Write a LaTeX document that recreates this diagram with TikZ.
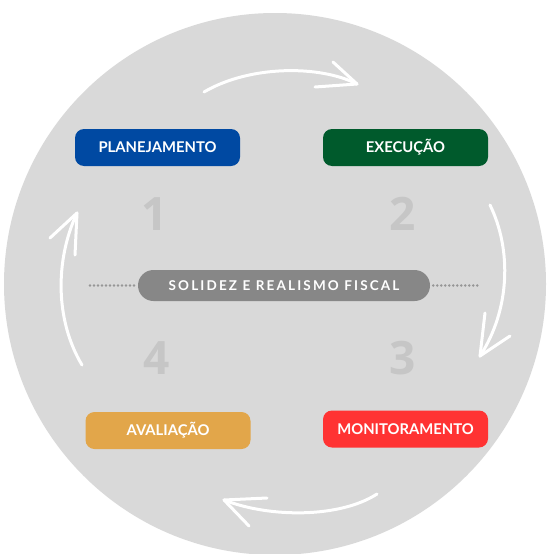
\documentclass[tikz,border=0pt]{standalone}
\usepackage{fontspec}
\setmainfont{Lato}
\newfontfamily\numfont{Open Sans}
\begin{document}
\begin{tikzpicture}[x=1pt,y=-1pt,
  stagebox/.style={rounded corners=9pt, minimum width=165pt, minimum height=37pt, inner sep=0pt,
    text=white, font=\fontsize{14.8}{16}\selectfont\bfseries},
  numlabel/.style={text=numgray, font=\numfont\fontsize{46}{50}\selectfont\bfseries},
  cyclearrow/.style={draw=white, line width=3pt, line cap=round, line join=round},
  dotline/.style={draw=dotgray, line width=2.6pt, line cap=round, dash pattern=on 0pt off 4pt}]
\definecolor{bggray}{HTML}{D9D9D9}
\definecolor{numgray}{HTML}{C6C6C6}
\definecolor{dotgray}{HTML}{969696}
\definecolor{pillgray}{HTML}{878787}
\definecolor{planblue}{HTML}{0049A2}
\definecolor{execgreen}{HTML}{005A2C}
\definecolor{monred}{HTML}{FF3333}
\definecolor{avalorange}{HTML}{E2A64A}
\useasboundingbox (0,0) rectangle (547,554);
\fill[white] (0,0) rectangle (547,554);
\fill[bggray] (275,284) circle (271);

% numbers
\node[numlabel] (n1) at (155,214) {1};
\node[numlabel] (n2) at (403,214) {2};
\node[numlabel] (n3) at (403,358) {3};
\node[numlabel] (n4) at (157,358) {4};

% stage boxes
\node[stagebox, fill=planblue] (plan) at (157.5,147.5) {PLANEJAMENTO};
\node[stagebox, fill=execgreen] (exec) at (405.5,147.5) {EXECUÇÃO};
\node[stagebox, fill=monred] (mon) at (405.5,429) {MONITORAMENTO};
\node[stagebox, fill=avalorange] (aval) at (168,430.5) {AVALIAÇÃO};

% central pill
\node[rounded corners=15.5pt, fill=pillgray, minimum width=292pt, minimum height=31pt, inner sep=0pt,
  text=white, font=\fontsize{13.5}{14}\selectfont\bfseries] (pill) at (284,285.5)
  {\addfontfeatures{LetterSpace=16}SOLIDEZ E REALISMO FISCAL};
\coordinate (dl) at (90,285.5);
\coordinate (dr) at (478,285.5);
\draw[dotline] (dl) -- ([xshift=-3pt]pill.west);
\draw[dotline] ([xshift=3pt]pill.east) -- (dr);

% arrows
\coordinate (ta) at (204,92);
\coordinate (tt) at (357,84);
\coordinate (tb1) at (333,62);
\coordinate (tb2) at (315,87);
\draw[cyclearrow] (ta) .. controls (250,65) and (320,65) .. (tt);
\draw[cyclearrow] (tb1) -- (tt) -- (tb2);

\coordinate (ra) at (490,205);
\coordinate (rt) at (480,356);
\coordinate (rb1) at (485,313);
\coordinate (rb2) at (510,336);
\draw[cyclearrow] (ra) .. controls (512,250) and (510,310) .. (rt);
\draw[cyclearrow] (rb1) -- (rt) -- (rb2);

\coordinate (ba) at (377,494);
\coordinate (bt) at (224,500);
\coordinate (bb1) at (267,498);
\coordinate (bb2) at (249,526);
\draw[cyclearrow] (ba) .. controls (340,518) and (270,518) .. (bt);
\draw[cyclearrow] (bb1) -- (bt) -- (bb2);

\coordinate (la) at (82,365);
\coordinate (lt) at (77,213);
\coordinate (lb1) at (50,238);
\coordinate (lb2) at (75,255);
\draw[cyclearrow] (la) .. controls (55,320) and (55,260) .. (lt);
\draw[cyclearrow] (lb1) -- (lt) -- (lb2);
\end{tikzpicture}
\end{document}
